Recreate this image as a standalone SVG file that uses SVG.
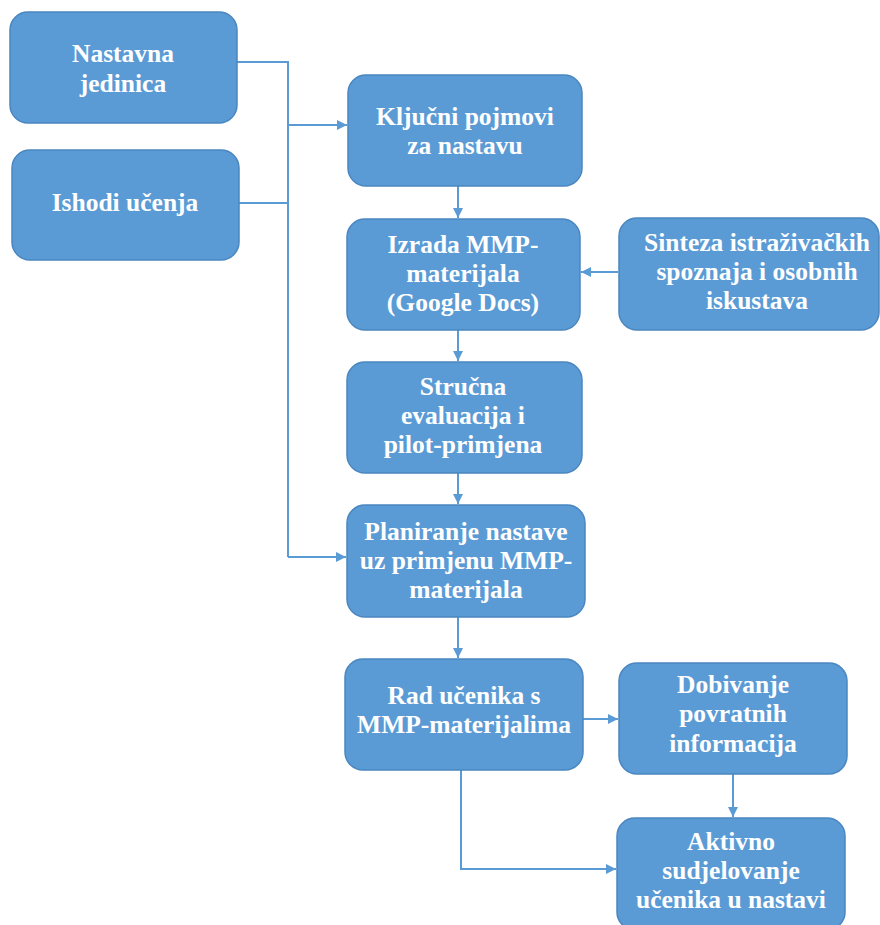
<svg xmlns="http://www.w3.org/2000/svg" width="880" height="925" viewBox="0 0 880 925">
<style>
.box{fill:#5B9BD5;stroke:#4A86C0;stroke-width:1.5}
.t{font-family:'Liberation Serif','Times New Roman',serif;font-weight:700;font-size:25.5px;fill:#ffffff;text-anchor:middle}
.c{fill:none;stroke:#5B9BD5;stroke-width:2}
</style>
<defs>
<marker id="ah" viewBox="0 0 10 10" refX="10" refY="5" markerWidth="10" markerHeight="10" markerUnits="userSpaceOnUse" orient="auto">
<path d="M0,0 L10,5 L0,10 Z" fill="#5B9BD5"/>
</marker>
</defs>
<rect width="880" height="925" fill="#ffffff"/>
<g id="connectors">
<polyline class="c" points="237,62 288,62 288,557"/>
<line class="c" x1="239" y1="203" x2="288" y2="203"/>
<line class="c" x1="288" y1="125" x2="347" y2="125" marker-end="url(#ah)"/>
<line class="c" x1="288" y1="557" x2="346" y2="557" marker-end="url(#ah)"/>
<line class="c" x1="458" y1="186" x2="458" y2="218" marker-end="url(#ah)"/>
<line class="c" x1="618" y1="272" x2="581" y2="272" marker-end="url(#ah)"/>
<line class="c" x1="458" y1="330" x2="458" y2="361" marker-end="url(#ah)"/>
<line class="c" x1="458" y1="473" x2="458" y2="504" marker-end="url(#ah)"/>
<line class="c" x1="458" y1="617" x2="458" y2="658" marker-end="url(#ah)"/>
<line class="c" x1="583" y1="719" x2="618" y2="719" marker-end="url(#ah)"/>
<line class="c" x1="733" y1="774" x2="733" y2="817" marker-end="url(#ah)"/>
<polyline class="c" points="461,770 461,869 616,869" marker-end="url(#ah)"/>
</g>
<g id="n1"><rect class="box" x="10" y="12" width="227" height="111" rx="18"/><text class="t" x="123" y="62">Nastavna</text><text class="t" x="123" y="92">jedinica</text></g>
<g id="n2"><rect class="box" x="12" y="150" width="227" height="110" rx="18"/><text class="t" x="125" y="211">Ishodi učenja</text></g>
<g id="n3"><rect class="box" x="348" y="75" width="234" height="111" rx="18"/><text class="t" x="465" y="125">Ključni pojmovi</text><text class="t" x="465" y="154">za nastavu</text></g>
<g id="n4"><rect class="box" x="347" y="219" width="233" height="111" rx="18"/><text class="t" x="463" y="253">Izrada MMP-</text><text class="t" x="463" y="282">materijala</text><text class="t" x="463" y="311">(Google Docs)</text></g>
<g id="n5"><rect class="box" x="619" y="218" width="260" height="112" rx="18"/><text class="t" x="757" y="251">Sinteza istraživačkih</text><text class="t" x="757" y="280">spoznaja i osobnih</text><text class="t" x="757" y="309">iskustava</text></g>
<g id="n6"><rect class="box" x="347" y="362" width="235" height="111" rx="18"/><text class="t" x="463" y="395">Stručna</text><text class="t" x="463" y="424">evaluacija i</text><text class="t" x="463" y="453">pilot-primjena</text></g>
<g id="n7"><rect class="box" x="347" y="505" width="238" height="112" rx="18"/><text class="t" x="466" y="540">Planiranje nastave</text><text class="t" x="466" y="569">uz primjenu MMP-</text><text class="t" x="466" y="598">materijala</text></g>
<g id="n8"><rect class="box" x="345" y="659" width="238" height="111" rx="18"/><text class="t" x="464" y="704">Rad učenika s</text><text class="t" x="464" y="733">MMP-materijalima</text></g>
<g id="n9"><rect class="box" x="619" y="663" width="228" height="111" rx="18"/><text class="t" x="733" y="693">Dobivanje</text><text class="t" x="733" y="722">povratnih</text><text class="t" x="733" y="752">informacija</text></g>
<g id="n10"><rect class="box" x="617" y="818" width="228" height="112" rx="18"/><text class="t" x="731" y="850">Aktivno</text><text class="t" x="731" y="879">sudjelovanje</text><text class="t" x="731" y="908">učenika u nastavi</text></g>
</svg>
